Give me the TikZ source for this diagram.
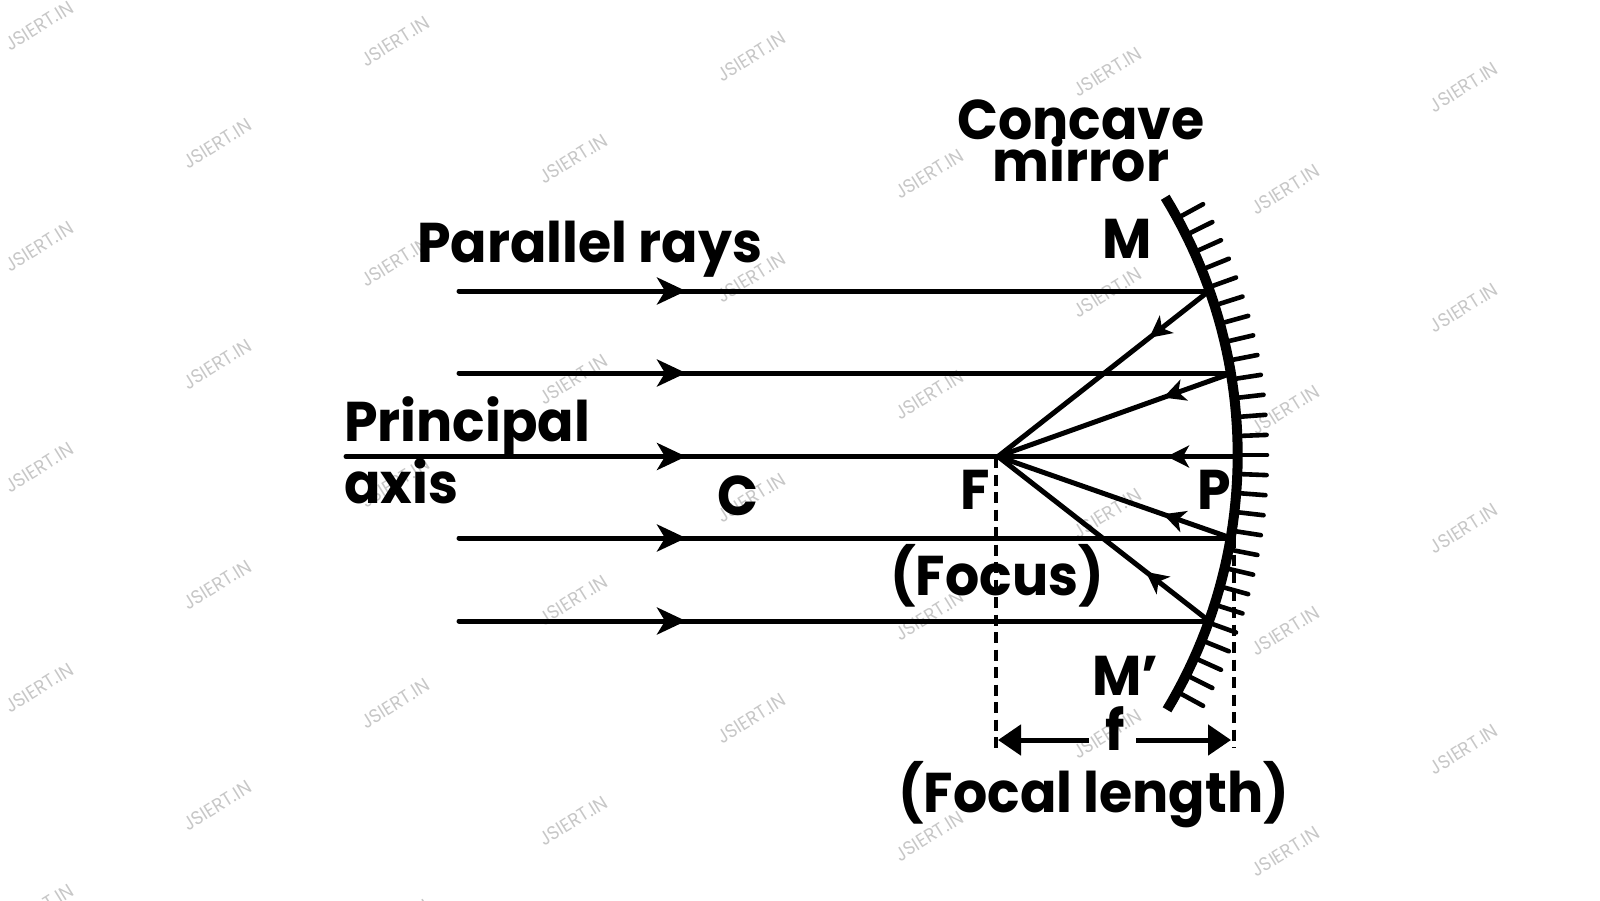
\documentclass[tikz,border=0pt]{standalone}
\usepackage{fontspec}
\setmainfont{Poppins}[FakeStretch=0.96]
\usetikzlibrary{arrows.meta,decorations.markings}
\tikzstyle{lab} = [font=\fontsize{56}{60}\selectfont\bfseries,inner sep=0pt,anchor=base west]
\tikzstyle{wmark} = [font=\fontsize{19}{22}\selectfont,text=black!22,rotate=32,inner sep=0pt]
\tikzstyle{ray} = [draw,line width=5pt,line cap=round]
\tikzstyle{tipin} = [postaction={decorate},decoration={markings,mark=at position #1 with {\arrow{Stealth[length=29pt,width=27pt,inset=8pt]}}}]
\tikzstyle{tipback} = [postaction={decorate},decoration={markings,mark=at position #1 with {\arrow{Stealth[length=22pt,width=22pt,inset=6pt]}}}]
\tikzstyle{dimline} = [draw,line width=3.6pt,dash pattern=on 11pt off 6.5pt]
\tikzstyle{dimarrow} = [draw,line width=5pt,-{Triangle[length=23pt,width=30pt]}]

\begin{document}
\begin{tikzpicture}[x=1pt,y=-1pt]
    \useasboundingbox (0,0) rectangle (1600,900);
    % watermark
    \foreach \r in {0,2,4,6,8} \foreach \c in {0,...,4}
        \node[wmark] (w\r\c) at ({39+356.2*\c},{26+110.35*\r+15.3*\c}) {JSIERT.IN};
    \foreach \r in {0,2,4,6} \foreach \c in {0,...,3}
        \node[wmark] (v\r\c) at ({217+356.2*\c},{143.5+110.35*\r+15.3*\c}) {JSIERT.IN};
    % points
    \coordinate (F) at (998,456.5);
    \coordinate (P) at (1237,456.5);
    \coordinate (M1) at (1209,291);
    \coordinate (M2) at (1232,373);
    \coordinate (M4) at (1231,538);
    \coordinate (M5) at (1209,621);
    \coordinate (A0) at (346,456.5);
    \coordinate (A1) at (459,291);
    \coordinate (A2) at (459,373);
    \coordinate (A4) at (459,538);
    \coordinate (A5) at (459,621);
    \coordinate (D0) at (996,457);
    \coordinate (D1) at (996,748);
    \coordinate (D2) at (1234,748);
    \coordinate (D3) at (1234,537);
    \coordinate (L1) at (1089,740);
    \coordinate (L2) at (998,740);
    \coordinate (R1) at (1136,740);
    \coordinate (R2) at (1231,740);
    % incoming rays
    \path[ray,tipin=227pt] (A1) -- (M1);
    \path[ray,tipin=227pt] (A2) -- (M2);
    \path[ray,tipin=340pt] (A0) -- (P);
    \path[ray,tipin=227pt] (A4) -- (M4);
    \path[ray,tipin=227pt] (A5) -- (M5);
    % reflected rays
    \path[ray,tipback=76pt] (M1) -- (F);
    \path[ray,tipback=73pt] (M2) -- (F);
    \path[ray,tipback=70pt] (P) -- (F);
    \path[ray,tipback=72pt] (M4) -- (F);
    \path[ray,tipback=80pt] (M5) -- (F);
    % mirror
    \draw[line width=10pt] plot[domain=-31.4:31,samples=50] ({743+494.7*cos(\x)},{455+494.7*sin(\x)});
    \foreach \a in {-13,...,13}
        \draw[line width=4.6pt,line cap=round] ({743+494.7*cos(2.2*\a)},{455+494.7*sin(2.2*\a)}) -- ({743+524*cos(2.2*\a)},{455+524*sin(2.2*\a)});
    % focal length
    \path[dimline] (D0) -- (D1);
    \path[dimline] (D3) -- (D2);
    \path[dimarrow] (L1) -- (L2);
    \path[dimarrow] (R1) -- (R2);
    % labels
    \node[lab,anchor=base] (concave) at (1081,139) {Concave};
    \node[lab,anchor=base] (mirror) at (1081,181) {mirror};
    \node[lab] (m) at (1102,258) {M};
    \node[lab] (parallel) at (417,262) {Parallel rays};
    \node[lab] (principal) at (344,441) {Principal};
    \node[lab] (axis) at (344,503) {axis};
    \node[lab] (c) at (717,515) {C};
    \node[lab] (f) at (960,509) {F};
    \node[lab] (p) at (1197,509) {P};
    \node[lab] (focus) at (890,595) {(Focus)};
    \node[lab] (mp) at (1092,695) {M’};
    \node[lab] (fl) at (1105,750) {f};
    \node[lab] (focal) at (898,812) {(Focal length)};
\end{tikzpicture}
\end{document}
